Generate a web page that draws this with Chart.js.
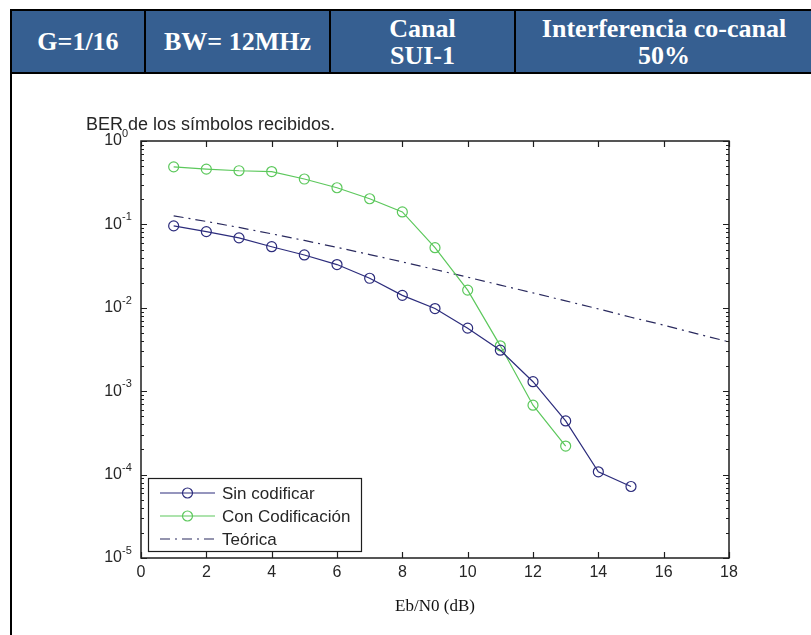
<!DOCTYPE html>
<html lang="es">
<head>
<meta charset="utf-8">
<title>BER de los símbolos recibidos</title>
<script src="https://cdn.jsdelivr.net/npm/chart.js@4.4.1/dist/chart.umd.min.js"></script>
<style>
  html, body { margin: 0; padding: 0; background: #fff; }
  .page { position: relative; width: 811px; height: 635px; overflow: hidden; }
  #berChart { position: absolute; left: 0; top: 0; }
  .hdr {
    position: absolute; left: 10px; top: 9px; width: 820px; height: 61px;
    border: 2px solid #000; background: #365f91; display: flex; z-index: 2;
  }
  .hdr div {
    box-sizing: border-box; border-right: 2px solid #000;
    display: flex; align-items: center; justify-content: center; text-align: center;
    color: #fff; font: bold 26px/27px "Liberation Serif", "Times New Roman", serif;
  }
  .hdr .c1 { width: 134px; }
  .hdr .c2 { width: 185px; }
  .hdr .c3 { width: 185px; }
  .hdr .c4 { width: 296px; border-right: none; }
  .side { position: absolute; left: 10px; top: 74px; width: 2px; height: 561px; background: #000; z-index: 2; }
</style>
</head>
<body>
<div class="page">
  <canvas id="berChart" width="811" height="635"></canvas>
  <div class="hdr">
    <div class="c1">G=1/16</div>
    <div class="c2">BW= 12MHz</div>
    <div class="c3">Canal<br>SUI-1</div>
    <div class="c4">Interferencia co-canal<br>50%</div>
  </div>
  <div class="side"></div>
</div>

<script>
// Eb/N0 en dB
const snrSim = [1, 2, 3, 4, 5, 6, 7, 8, 9, 10, 11, 12, 13, 14, 15];
const snrCod = [1, 2, 3, 4, 5, 6, 7, 8, 9, 10, 11, 12, 13];
const snrTeo = [1, 2, 3, 4, 5, 6, 7, 8, 9, 10, 11, 12, 13, 14, 15, 16, 17, 18];

// BER medida
const berSinCodificar = [0.096, 0.082, 0.069, 0.054, 0.043, 0.033, 0.0226, 0.0141, 0.0098,
                         0.0057, 0.0031, 0.0013, 0.00044, 0.000108, 0.000072];
const berConCodificacion = [0.49, 0.46, 0.44, 0.43, 0.35, 0.275, 0.203, 0.141, 0.0526,
                            0.0163, 0.0035, 0.00068, 0.00022];
const berTeorica = [0.1267, 0.1085, 0.0919, 0.0771, 0.0642, 0.0530, 0.0435, 0.0355, 0.0288,
                    0.0233, 0.0187, 0.0151, 0.0121, 0.0097, 0.0077, 0.0062, 0.0049, 0.0039];

const seriesNames = ["Sin codificar", "Con Codificación", "Teórica"];

// ejes
const xTicks = [0, 2, 4, 6, 8, 10, 12, 14, 16, 18];
const yTickExps = [0, -1, -2, -3, -4, -5];

const toPoints = (xs, ys) => xs.map((x, i) => ({ x: x, y: ys[i] }));

const axisColor = "#1e1e1e";
const textColor = "#262626";

// caja, marcas hacia dentro, etiquetas 10^n, titulo y leyenda al estilo MATLAB
const matlabAxes = {
    id: "matlabAxes",
    afterDatasetsDraw(chart) {
        const ctx = chart.ctx;
        const area = chart.chartArea;
        const xs = chart.scales.x;
        const ys = chart.scales.y;

        ctx.save();
        ctx.strokeStyle = axisColor;
        ctx.lineWidth = 1.5;
        ctx.strokeRect(area.left, area.top, area.right - area.left, area.bottom - area.top);

        // marcas del eje x (abajo y arriba)
        ctx.lineWidth = 1.2;
        ctx.beginPath();
        xTicks.forEach(v => {
            const px = Math.round(xs.getPixelForValue(v)) + 0.5;
            ctx.moveTo(px, area.bottom); ctx.lineTo(px, area.bottom - 6);
            ctx.moveTo(px, area.top); ctx.lineTo(px, area.top + 6);
        });
        // marcas del eje y: decadas y subdivisiones
        yTickExps.forEach(e => {
            const py = Math.round(ys.getPixelForValue(Math.pow(10, e))) + 0.5;
            ctx.moveTo(area.left, py); ctx.lineTo(area.left + 6, py);
            ctx.moveTo(area.right, py); ctx.lineTo(area.right - 6, py);
            if (e > -5) return;
        });
        for (let e = -5; e < 0; e++) {
            for (let m = 2; m <= 9; m++) {
                const py = Math.round(ys.getPixelForValue(m * Math.pow(10, e))) + 0.5;
                ctx.moveTo(area.left, py); ctx.lineTo(area.left + 3, py);
                ctx.moveTo(area.right, py); ctx.lineTo(area.right - 3, py);
            }
        }
        ctx.stroke();

        // etiquetas
        ctx.fillStyle = textColor;
        ctx.font = "16px 'Liberation Sans', Arial, sans-serif";
        ctx.textAlign = "center";
        ctx.textBaseline = "middle";
        xTicks.forEach(v => {
            ctx.fillText(String(v), xs.getPixelForValue(v), area.bottom + 15);
        });

        yTickExps.forEach(e => {
            const py = ys.getPixelForValue(Math.pow(10, e));
            ctx.font = "16px 'Liberation Sans', Arial, sans-serif";
            ctx.textAlign = "right";
            ctx.fillText("10", area.left - 19, py);
            ctx.font = "11px 'Liberation Sans', Arial, sans-serif";
            ctx.textAlign = "left";
            ctx.fillText(String(e), area.left - 19, py - 7);
        });

        // titulo
        ctx.font = "18px 'Liberation Sans', Arial, sans-serif";
        ctx.textAlign = "left";
        ctx.textBaseline = "alphabetic";
        ctx.fillText("BER de los símbolos recibidos.", 86, 130);

        // etiqueta del eje x
        ctx.font = "17px 'Liberation Serif', 'Times New Roman', serif";
        ctx.textAlign = "center";
        ctx.fillStyle = "#111";
        ctx.fillText("Eb/N0 (dB)", (area.left + area.right) / 2, 611);

        // leyenda
        const lx = 148.5, ly = 478.5, lw = 213, lh = 73;
        ctx.fillStyle = "#fff";
        ctx.fillRect(lx, ly, lw, lh);
        ctx.strokeStyle = axisColor;
        ctx.lineWidth = 1.2;
        ctx.strokeRect(lx, ly, lw, lh);
        const rows = [493, 516, 539];
        chart.data.datasets.forEach((ds, i) => {
            const y = rows[i];
            ctx.strokeStyle = ds.borderColor;
            ctx.lineWidth = ds.borderWidth;
            ctx.setLineDash(ds.borderDash || []);
            ctx.beginPath();
            ctx.moveTo(160, y); ctx.lineTo(215, y);
            ctx.stroke();
            ctx.setLineDash([]);
            if (ds.pointRadius > 0) {
                ctx.beginPath();
                ctx.arc(187.5, y, ds.pointRadius, 0, Math.PI * 2);
                ctx.stroke();
            }
            ctx.fillStyle = textColor;
            ctx.font = "17px 'Liberation Sans', Arial, sans-serif";
            ctx.textAlign = "left";
            ctx.textBaseline = "middle";
            ctx.fillText(ds.label, 222, y + 1);
        });
        ctx.restore();
    }
};

const ctx = document.getElementById("berChart").getContext("2d");

new Chart(ctx, {
    type: "line",
    data: {
        datasets: [
            {
                label: seriesNames[0],
                data: toPoints(snrSim, berSinCodificar),
                borderColor: "#2c2c7c",
                borderWidth: 1.2,
                pointRadius: 5,
                pointBorderWidth: 1.2,
                pointBackgroundColor: "rgba(0,0,0,0)",
                pointBorderColor: "#2c2c7c",
                tension: 0
            },
            {
                label: seriesNames[1],
                data: toPoints(snrCod, berConCodificacion),
                borderColor: "#5cc85c",
                borderWidth: 1.2,
                pointRadius: 5,
                pointBorderWidth: 1.2,
                pointBackgroundColor: "rgba(0,0,0,0)",
                pointBorderColor: "#5cc85c",
                tension: 0
            },
            {
                label: seriesNames[2],
                data: toPoints(snrTeo, berTeorica),
                borderColor: "#2a2a5e",
                borderWidth: 1.2,
                borderDash: [10, 5, 2, 5],
                pointRadius: 0,
                tension: 0
            }
        ]
    },
    options: {
        responsive: false,
        animation: false,
        events: [],
        layout: { padding: { left: 141, top: 141, right: 82, bottom: 77 } },
        scales: {
            x: { type: "linear", min: 0, max: 18, display: false },
            y: { type: "logarithmic", min: 1e-5, max: 1, display: false }
        },
        plugins: {
            legend: { display: false },
            title: { display: false },
            tooltip: { enabled: false }
        }
    },
    plugins: [matlabAxes]
});
</script>
</body>
</html>
